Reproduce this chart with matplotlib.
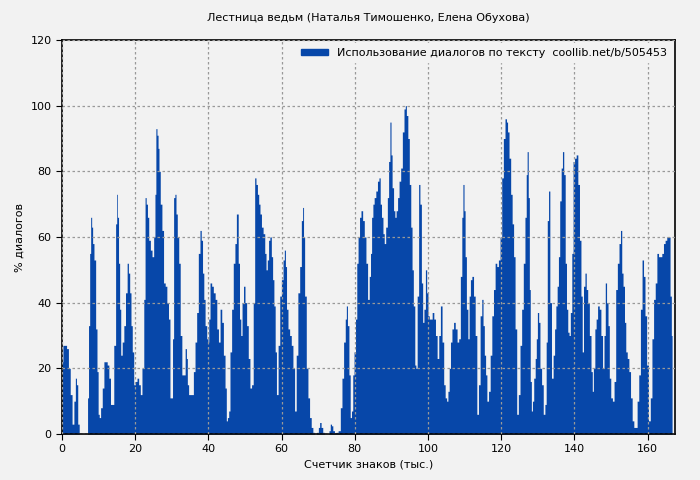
import matplotlib
matplotlib.use('agg')
from matplotlib import pyplot as plt
from matplotlib.patches import Patch

# position in text (thousands of chars) and % dialogue
xs = [0, 0.5, 1, 1.5, 2, 2.5, 3, 3.5, 3.8, 4.1, 4.5, 4.9, 6.9,
      7.07, 7.43, 7.7, 7.97, 8.24, 8.5, 8.97, 9.42, 9.7, 10.05, 10.3, 10.8, 11.2, 11.7, 12.1, 12.6,
      13.0, 13.5, 13.9, 14.4, 14.9, 15.0, 15.3, 15.6, 15.9, 16.2, 16.7, 17.1, 17.6, 18.0, 18.3,
      18.7, 19.0, 19.4, 19.8, 20.3, 20.7, 21.2, 21.6, 22.1, 22.6, 22.8, 23.2, 23.5, 23.9, 24.4,
      24.8, 25.3, 25.5, 25.8, 26.1, 26.4, 26.6, 27.1, 27.5, 28.0, 28.4, 28.9, 29.3, 29.7, 30.1,
      30.3, 30.7, 31.0, 31.3, 31.7, 32.1, 32.5, 33.0, 33.4, 33.9, 34.1, 34.4, 34.8, 35.2, 35.7,
      36.1, 36.6, 37.0, 37.5, 37.9, 38.2, 38.6, 38.9, 39.3, 39.8, 40.0, 40.2, 40.7, 41.1,
      41.6, 42.1, 42.5, 43.0, 43.4, 43.9, 44.3, 44.8, 45.0, 45.4, 45.7, 46.1, 46.6, 47.0, 47.5,
      47.8, 48.0, 48.3, 48.7, 49.0, 49.4, 49.8, 50.2, 50.7, 51.1, 51.6, 52.0, 52.5, 52.8, 53.2,
      53.6, 53.9, 54.3, 54.7, 55.2, 55.6, 55.9, 56.3, 56.6, 57.0, 57.4, 57.7, 58.1, 58.4, 58.8,
      59.3, 59.7, 60.2, 60.6, 60.9, 61.2, 61.5, 62.0, 62.4, 62.9, 63.3, 63.8, 64.2, 64.7, 65.2,
      65.6, 65.9, 66.1, 66.5, 67.0, 67.4, 67.9, 68.3, 68.8, 69.2, 69.9, 70.2, 70.6, 71.0, 71.5,
      71.9, 72.8, 73.1, 73.5, 73.8, 74.2, 74.7, 75.1, 75.8, 76.3, 76.7, 77.2, 77.6, 77.8, 78.2,
      78.6, 78.9, 79.3, 79.6, 80.0, 80.4, 80.7, 81.1, 81.5, 81.9, 82.4, 82.8, 83.3,
      83.7, 84.2, 84.4, 84.8, 85.1, 85.5, 86.0, 86.4, 86.8, 87.1, 87.5, 87.9, 88.2, 88.7, 89.1,
      89.4, 89.8, 90.0, 90.4, 90.8, 91.1, 91.5, 91.9, 92.3, 92.8, 93.2, 93.7, 93.9, 94.3, 94.7,
      95.1, 95.5, 95.8, 96.2, 96.6, 96.8, 97.3, 97.6, 98.0, 98.4, 98.7, 99.1, 99.5, 99.8, 100.2,
      100.5, 100.9, 101.4, 101.8, 102.3, 102.7, 103.2, 103.6, 104.1, 104.5, 104.9, 105.3, 105.6,
      106.0, 106.3, 106.8, 107.2, 107.7, 108.2, 108.6, 109.1, 109.4, 109.7, 110.0, 110.3, 110.7,
      111.1, 111.4, 111.8, 112.2, 112.7, 113.1, 113.6, 114.0, 114.5, 114.9, 115.2, 115.6, 115.9,
      116.3, 116.8, 117.2, 117.7, 118.1, 118.6, 119.0, 119.5, 119.9, 120.4, 120.8, 121.3, 121.6,
      121.9, 122.4, 122.8, 123.2, 123.6, 124.0, 124.5, 124.9, 125.4, 125.8,
      126.3, 126.7, 127.0, 127.2, 127.6, 127.8, 128.1, 128.4, 128.7, 129.1, 129.5, 129.7, 130.1,
      130.4, 130.8, 131.3, 131.7, 132.2, 132.4, 132.8, 133.1, 133.5, 134.0, 134.4, 134.8, 135.1,
      135.5, 135.8, 136.2, 136.6, 136.9, 137.3, 137.7, 138.0, 138.4, 138.7, 139.1, 139.5, 139.8,
      140.3, 140.7, 141.2, 141.6, 142.0, 142.3, 142.7, 143.1, 143.4, 143.9, 144.3, 144.8, 145.0,
      145.4, 145.8, 146.1, 146.6, 147.0, 147.5, 147.9, 148.3, 148.6, 149.0, 149.4, 149.7, 150.2,
      150.6, 151.1, 151.5, 152.0, 152.4, 152.8, 153.1, 153.5, 153.9, 154.2, 154.7, 155.1, 155.6,
      156.0, 156.5, 156.9, 157.4, 157.8, 158.3, 158.7, 159.1, 159.5, 160.0, 160.5, 161.0, 161.4,
      161.9, 162.3, 162.8, 163.2, 163.7, 164.1, 164.6, 165.0, 165.5, 165.9, 166.4, 166.6, 166.8]
ys = [22, 27, 27, 26, 20, 12, 3, 10, 17, 15, 3, 0, 0,
      11, 33, 55, 66, 63, 58, 53, 32, 19, 6, 5, 8, 14, 22, 22, 21,
      17, 9, 9, 27, 64, 73, 66, 52, 38, 24, 28, 33, 43, 52, 49,
      43, 33, 25, 15, 16, 17, 15, 12, 20, 41, 72, 70, 66, 59, 56,
      54, 60, 73, 93, 91, 87, 80, 70, 62, 46, 45, 40, 35, 11, 11,
      29, 72, 73, 67, 60, 52, 30, 18, 18, 26, 23, 15, 12, 12, 12,
      19, 28, 37, 55, 62, 59, 49, 41, 33, 29, 28, 35, 46, 45,
      43, 41, 32, 28, 38, 34, 24, 14, 4, 5, 7, 25, 38, 52, 58,
      67, 67, 52, 35, 30, 40, 45, 40, 33, 23, 14, 15, 40, 78, 76,
      73, 70, 67, 63, 61, 55, 50, 53, 59, 60, 54, 47, 39, 25, 12,
      27, 42, 47, 53, 56, 51, 38, 32, 30, 27, 20, 7, 24, 43, 51,
      65, 69, 60, 42, 20, 11, 5, 2, 0.5, 0, 0.5, 2, 3.5, 2, 0.5,
      0, 0, 1, 3, 2.5, 1, 0.3, 0.5, 1, 8, 17, 28, 35, 39, 33,
      18, 5, 7, 18, 25, 35, 52, 60, 66, 68, 65, 60, 52,
      41, 48, 55, 66, 70, 72, 74, 77, 78, 70, 66, 61, 58, 63, 72,
      83, 95, 85, 75, 68, 66, 68, 72, 77, 81, 92, 99, 100, 97, 90,
      76, 63, 50, 39, 21, 20, 42, 76, 70, 46, 34, 38, 50, 43, 36,
      35, 35, 37, 35, 30, 23, 30, 39, 28, 15, 11, 10, 13,
      20, 28, 32, 34, 32, 28, 29, 48, 66, 76, 68, 54, 38,
      29, 42, 47, 48, 42, 30, 6, 15, 36, 41, 33, 24, 18,
      10, 13, 24, 36, 44, 52, 51, 53, 60, 78, 90, 96, 95,
      92, 84, 73, 64, 54, 32, 6, 12, 27, 38,
      52, 66, 79, 86, 72, 44, 16, 7, 10, 17, 23, 29, 37,
      34, 20, 15, 6, 9, 28, 65, 74, 40, 17, 24, 32, 39,
      45, 54, 71, 81, 86, 79, 52, 38, 31, 30, 37, 55, 83,
      84, 85, 76, 59, 42, 25, 45, 49, 44, 40, 30, 19, 13,
      20, 32, 35, 39, 38, 30, 20, 30, 46, 40, 33, 17, 11,
      10, 16, 44, 52, 58, 62, 49, 45, 34, 25, 23, 19, 11,
      4, 2, 2, 10, 18, 38, 53, 48, 36, 21, 4, 11, 29,
      41, 46, 55, 54, 54, 55, 58, 59, 60, 60, 42, 30, 0]

bg = '#f2f2f2'
blue = '#0747a9'

fig = plt.figure(figsize=(7, 4.8), dpi=100, facecolor=bg)
ax = fig.add_axes([62/700, 46/480, 613/700, 394/480])
ax.set_facecolor(bg)
ax.fill_between(xs, ys, 0, color=blue, linewidth=0, step='mid')

ax.set_xlim(0, 167.5)
ax.set_ylim(0, 120)
ax.set_xticks(range(0, 161, 20))
ax.set_yticks(range(0, 121, 20))
ax.grid(True, color='#999999', linestyle=(0, (2, 2)), linewidth=0.9)
ax.set_axisbelow(False)
ax.tick_params(labelsize=8, length=4, direction='out')
for s in ax.spines.values():
    s.set_linewidth(1.2)

ax.set_title('Лестница ведьм (Наталья Тимошенко, Елена Обухова)', fontsize=8, pad=14)
ax.set_xlabel('Счетчик знаков (тыс.)', fontsize=8)
ax.set_ylabel('% диалогов', fontsize=8)
ax.legend([Patch(color=blue)], ['Использование диалогов по тексту  coollib.net/b/505453'],
          loc='upper right', fontsize=8, frameon=True, facecolor=bg, edgecolor=bg,
          framealpha=1, handlelength=2.5, handleheight=0.5, borderaxespad=0.3)

fig.savefig('out.png', facecolor=bg)
